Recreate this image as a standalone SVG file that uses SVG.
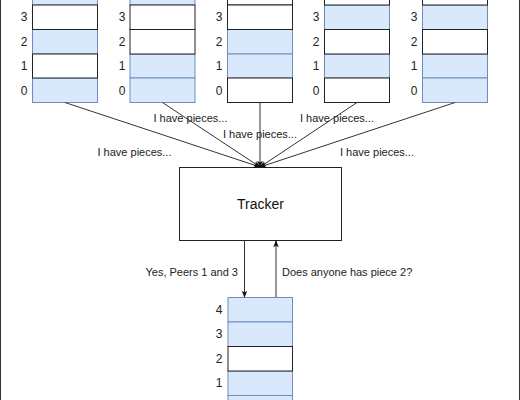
<svg xmlns="http://www.w3.org/2000/svg" width="520" height="400" viewBox="0 0 520 400">
<defs>
<marker id="arr" viewBox="0 0 10 10" refX="9" refY="5" markerWidth="7" markerHeight="7" markerUnits="userSpaceOnUse" orient="auto">
<path d="M0,1 L10,5 L0,9 L2.5,5 Z" fill="#111"/>
</marker>
<style>
.b{fill:#dae8fc;stroke:#6c8ebf;stroke-width:1}
.w{fill:#fff;stroke:#222;stroke-width:1}
.n{font-family:"Liberation Sans",Arial,sans-serif;font-size:12px;fill:#222;text-anchor:middle;dominant-baseline:central}
.l{font-family:"Liberation Sans",Arial,sans-serif;font-size:11px;fill:#222;text-anchor:middle;dominant-baseline:central}
.c{fill:none;stroke:#333;stroke-width:1;marker-end:url(#arr)}
</style>
</defs>
<rect width="520" height="400" fill="#fff"/>
<line x1="0.5" y1="0" x2="0.5" y2="400" stroke="#333"/>
<line x1="519.5" y1="0" x2="519.5" y2="400" stroke="#333"/>

<g id="peer1">
<rect class="b" x="32.5" y="-19.5" width="65" height="24.5"/>
<rect class="b" x="32.5" y="29.5" width="65" height="24.5"/>
<rect class="b" x="32.5" y="78" width="65" height="24.5"/>
<rect class="w" x="32.5" y="5" width="65" height="24.5"/>
<rect class="w" x="32.5" y="54" width="65" height="24"/>
<text class="n" x="24" y="17">3</text><text class="n" x="24" y="42">2</text><text class="n" x="24" y="66">1</text><text class="n" x="24" y="91">0</text>
</g>
<g id="peer2">
<rect class="b" x="130" y="-19.5" width="65" height="24.5"/>
<rect class="b" x="130" y="54" width="65" height="24"/>
<rect class="b" x="130" y="78" width="65" height="24.5"/>
<rect class="w" x="130" y="5" width="65" height="24.5"/>
<rect class="w" x="130" y="29.5" width="65" height="24.5"/>
<text class="n" x="122" y="17">3</text><text class="n" x="122" y="42">2</text><text class="n" x="122" y="66">1</text><text class="n" x="122" y="91">0</text>
</g>
<g id="peer3">
<rect class="b" x="227.5" y="29.5" width="65" height="24.5"/>
<rect class="b" x="227.5" y="54" width="65" height="24"/>
<rect class="w" x="227.5" y="-19.5" width="65" height="24.5"/>
<rect class="w" x="227.5" y="5" width="65" height="24.5"/>
<rect class="w" x="227.5" y="78" width="65" height="24.5"/>
<text class="n" x="219" y="17">3</text><text class="n" x="219" y="42">2</text><text class="n" x="219" y="66">1</text><text class="n" x="219" y="91">0</text>
</g>
<g id="peer4">
<rect class="b" x="324.5" y="5" width="65" height="24.5"/>
<rect class="b" x="324.5" y="54" width="65" height="24"/>
<rect class="w" x="324.5" y="-19.5" width="65" height="24.5"/>
<rect class="w" x="324.5" y="29.5" width="65" height="24.5"/>
<rect class="w" x="324.5" y="78" width="65" height="24.5"/>
<text class="n" x="316" y="17">3</text><text class="n" x="316" y="42">2</text><text class="n" x="316" y="66">1</text><text class="n" x="316" y="91">0</text>
</g>
<g id="peer5">
<rect class="b" x="422.5" y="5" width="65" height="24.5"/>
<rect class="b" x="422.5" y="54" width="65" height="24"/>
<rect class="b" x="422.5" y="78" width="65" height="24.5"/>
<rect class="w" x="422.5" y="-19.5" width="65" height="24.5"/>
<rect class="w" x="422.5" y="29.5" width="65" height="24.5"/>
<text class="n" x="414" y="17">3</text><text class="n" x="414" y="42">2</text><text class="n" x="414" y="66">1</text><text class="n" x="414" y="91">0</text>
</g>

<g id="tracker">
<rect x="179.5" y="167.5" width="162" height="73" fill="#fff" stroke="#222"/>
<text x="260.5" y="204" font-family="'Liberation Sans',Arial,sans-serif" font-size="14px" fill="#111" text-anchor="middle" dominant-baseline="central">Tracker</text>
</g>

<g id="requester">
<rect class="b" x="228" y="297.5" width="64.5" height="24.5"/>
<rect class="b" x="228" y="322" width="64.5" height="24.5"/>
<rect class="b" x="228" y="371" width="64.5" height="24.5"/>
<rect class="b" x="228" y="395.5" width="64.5" height="24.5"/>
<rect class="w" x="228" y="346.5" width="64.5" height="24.5"/>
<text class="n" x="219" y="310">4</text><text class="n" x="219" y="334">3</text><text class="n" x="219" y="359">2</text><text class="n" x="219" y="383">1</text>
</g>

<g id="connectors">
<line class="c" x1="65" y1="102.5" x2="260" y2="167"/>
<line class="c" x1="162.5" y1="102.5" x2="260" y2="167"/>
<line class="c" x1="260" y1="102.5" x2="260" y2="167"/>
<line class="c" x1="357" y1="102.5" x2="260" y2="167"/>
<line class="c" x1="455" y1="102.5" x2="260" y2="167"/>
<line class="c" x1="244.5" y1="240.5" x2="244.5" y2="297"/>
<line class="c" x1="276" y1="297" x2="276" y2="241"/>
<text class="l" x="134.5" y="152">I have pieces...</text>
<text class="l" x="190.5" y="118">I have pieces...</text>
<text class="l" x="260" y="134">I have pieces...</text>
<text class="l" x="337" y="118">I have pieces...</text>
<text class="l" x="377" y="152">I have pieces...</text>
<text class="l" x="238" y="272" text-anchor="end" style="text-anchor:end">Yes, Peers 1 and 3</text>
<text class="l" x="282" y="272" style="text-anchor:start">Does anyone has piece 2?</text>
</g>
</svg>
